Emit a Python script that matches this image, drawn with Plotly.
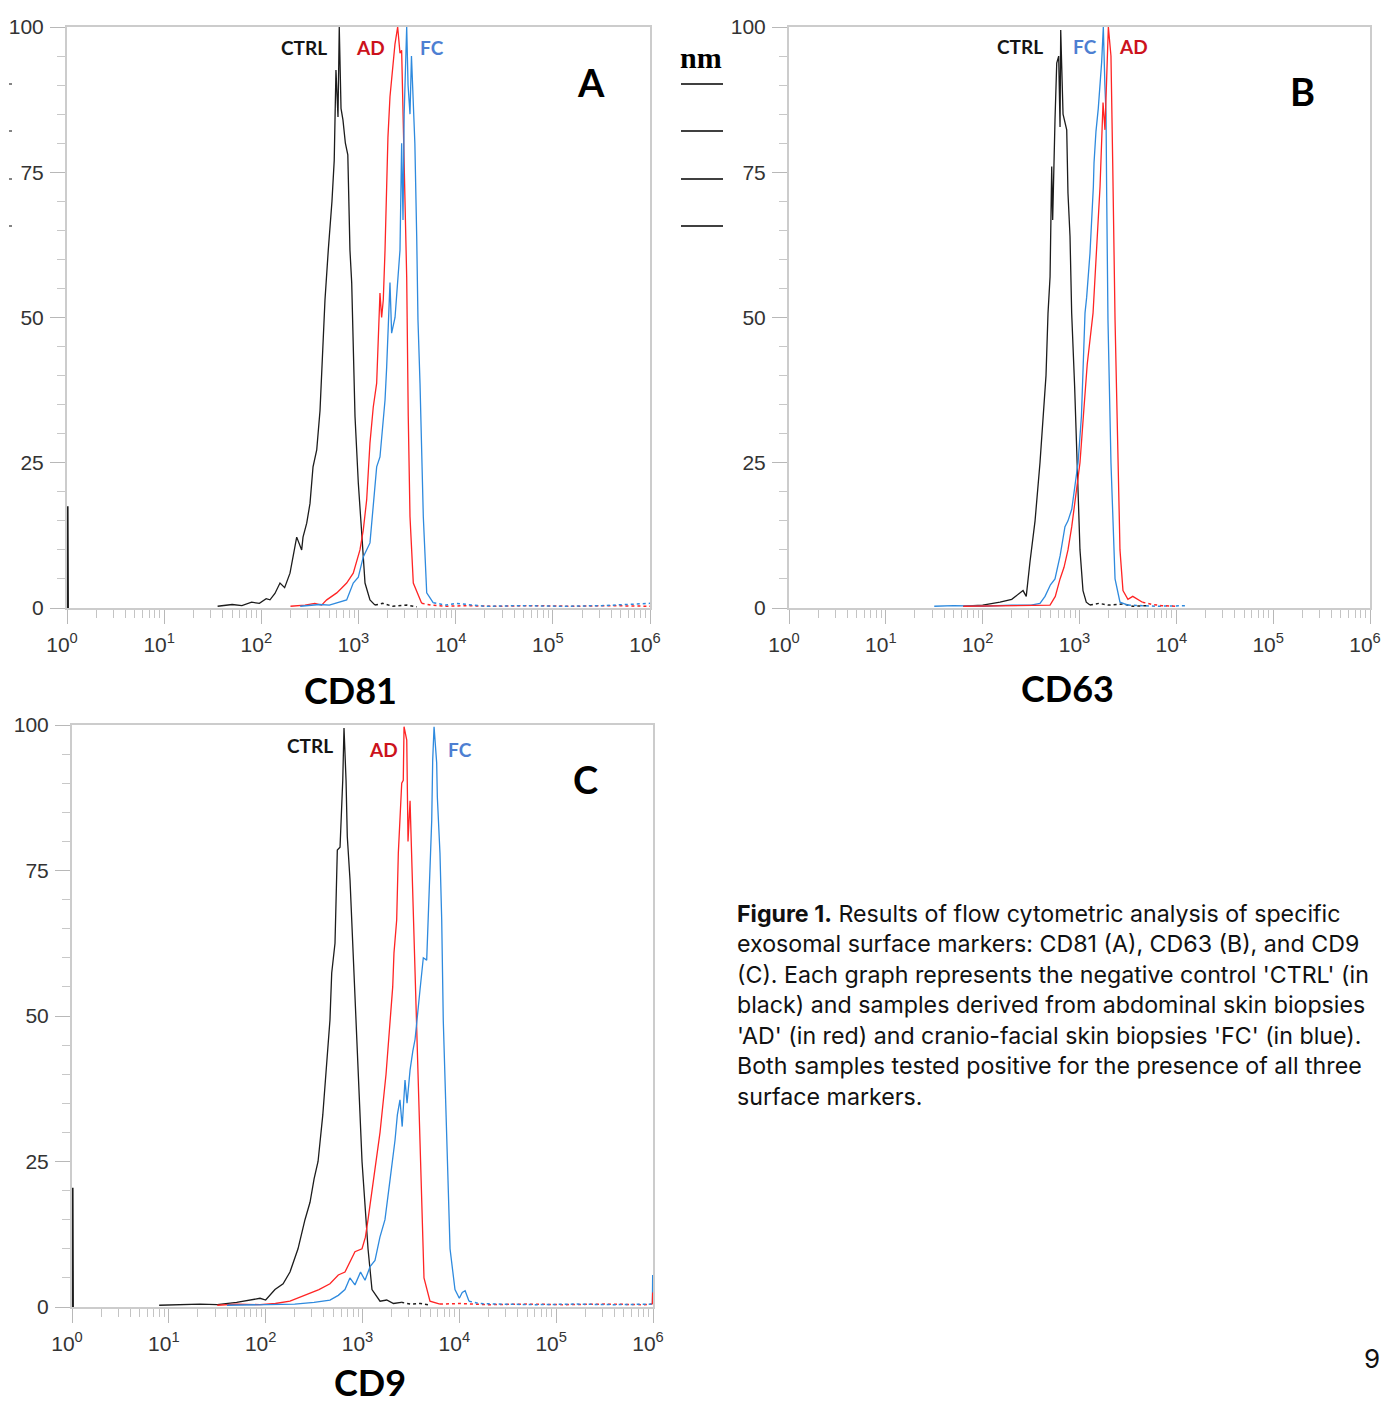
import plotly.graph_objects as go

W, H = 1389, 1402          # browser window
PAGE_MARGIN = 8            # default body margin of the html page
FW, FH = W - PAGE_MARGIN, H - PAGE_MARGIN

# ---------------- DATA (log10 of fluorescence intensity, % of max) ----------------
# Panel A : CD81
a_ctrl_log = [1.55, 1.70, 1.80, 1.90, 1.98, 2.05, 2.089, 2.14, 2.192, 2.24, 2.295, 2.33, 2.364, 2.415, 2.429,
              2.467, 2.501, 2.532, 2.57, 2.604, 2.621, 2.655, 2.689, 2.727, 2.75, 2.768, 2.789, 2.802, 2.82,
              2.84, 2.865, 2.89, 2.912, 2.93, 2.964, 2.998, 3.033, 3.067, 3.118, 3.17]
a_ctrl_val = [0.3, 0.6, 0.4, 1.0, 0.8, 1.6, 1.4, 2.5, 4.3, 3.5, 6.0, 9.0, 12.2, 10.0, 12.2,
              14.6, 18.0, 24.3, 27.2, 34.0, 40.5, 53.0, 61.6, 70.0, 77.0, 92.6, 84.5, 100.0, 86.0,
              84.0, 80.0, 78.0, 61.6, 56.0, 33.0, 21.5, 12.9, 4.3, 1.4, 0.5]
a_ctrl_tail_log = [3.17, 3.25, 3.35, 3.50, 3.60]
a_ctrl_tail_val = [0.5, 0.8, 0.3, 0.5, 0.2]
a_ctrl_spike_log = [0.004, 0.008, 0.012]
a_ctrl_spike_val = [0.0, 17.5, 0.0]

a_ad_log = [2.30, 2.45, 2.55, 2.62, 2.673, 2.72, 2.776, 2.83, 2.878, 2.946, 3.015, 3.049, 3.084, 3.118, 3.152,
            3.187, 3.204, 3.221, 3.238, 3.255, 3.273, 3.29, 3.303, 3.324, 3.35, 3.375, 3.403, 3.427, 3.444,
            3.458, 3.478, 3.496, 3.512, 3.53, 3.564, 3.633, 3.65]
a_ad_val = [0.3, 0.5, 0.8, 0.5, 1.4, 2.0, 2.6, 3.5, 4.3, 6.0, 10.0, 13.4, 18.6, 28.4, 34.6,
            38.7, 45.6, 54.2, 50.0, 53.0, 61.6, 72.5, 81.0, 88.0, 92.0, 97.0, 100.0, 95.5, 96.0,
            84.0, 72.5, 57.0, 33.0, 15.7, 4.3, 1.4, 0.8]
a_ad_tail_log = [3.65, 3.75, 3.90, 4.10, 4.40, 4.80, 5.20, 5.60, 6.00]
a_ad_tail_val = [0.8, 0.5, 0.3, 0.4, 0.3, 0.4, 0.3, 0.4, 0.3]

a_fc_log = [2.40, 2.60, 2.70, 2.776, 2.878, 2.946, 2.998, 3.049, 3.118, 3.187, 3.221, 3.273, 3.29, 3.324, 3.341,
            3.376, 3.41, 3.427, 3.444, 3.458, 3.47, 3.496, 3.51, 3.53, 3.545, 3.564, 3.58, 3.599, 3.612,
            3.633, 3.667, 3.702, 3.77]
a_fc_val = [0.3, 0.6, 0.5, 0.9, 1.4, 4.3, 5.3, 8.8, 11.2, 24.3, 26.0, 35.8, 41.5, 56.0, 47.3,
            50.0, 58.7, 61.6, 80.0, 66.8, 85.0, 100.0, 90.0, 85.0, 95.0, 87.0, 80.0, 64.0, 49.6,
            38.7, 15.7, 2.6, 0.9]
a_fc_tail_log = [3.77, 3.90, 4.00, 4.30, 4.70, 5.10, 5.50, 6.00]
a_fc_tail_val = [0.9, 0.5, 0.8, 0.3, 0.4, 0.3, 0.4, 0.8]

# Panel B : CD63
b_ctrl_log = [1.80, 2.00, 2.179, 2.30, 2.417, 2.45, 2.489, 2.541, 2.592, 2.62, 2.654, 2.675, 2.696, 2.713, 2.723,
              2.747, 2.765, 2.785, 2.799, 2.806, 2.83, 2.868, 2.881, 2.902, 2.919, 2.95, 2.974, 3.005, 3.036,
              3.07, 3.108]
b_ctrl_val = [0.3, 0.5, 1.0, 1.5, 3.0, 2.0, 8.0, 15.0, 25.0, 32.0, 40.0, 50.8, 57.0, 76.0, 66.8,
              84.0, 93.8, 95.0, 82.8, 99.5, 85.0, 82.3, 71.4, 64.0, 50.8, 38.0, 25.0, 10.0, 3.0,
              1.0, 0.5]
b_ctrl_tail_log = [3.108, 3.20, 3.30, 3.45, 3.55, 3.70]
b_ctrl_tail_val = [0.5, 0.8, 0.5, 0.7, 0.3, 0.4]

b_fc_log = [1.50, 1.70, 2.00, 2.30, 2.50, 2.592, 2.644, 2.70, 2.747, 2.80, 2.85, 2.881, 2.92, 2.95, 2.985, 3.02,
            3.057, 3.074, 3.108, 3.143, 3.15, 3.17, 3.194, 3.229, 3.246, 3.262, 3.274, 3.281, 3.294, 3.325,
            3.367, 3.418, 3.50]
b_fc_val = [0.3, 0.4, 0.3, 0.5, 0.5, 0.8, 2.0, 4.0, 5.0, 9.0, 14.0, 15.0, 17.0, 21.0, 25.0, 33.0,
            50.8, 53.5, 61.0, 72.5, 76.6, 82.0, 86.0, 94.0, 100.0, 90.0, 85.0, 70.7, 49.6, 25.0,
            5.0, 1.0, 0.5]
b_fc_tail_log = [3.50, 3.60, 3.80, 4.10]
b_fc_tail_val = [0.5, 0.4, 0.3, 0.4]

b_ad_log = [1.80, 2.10, 2.40, 2.60, 2.696, 2.75, 2.799, 2.84, 2.881, 2.92, 2.95, 3.005, 3.04, 3.08, 3.14, 3.17,
            3.19, 3.212, 3.243, 3.263, 3.281, 3.298, 3.325, 3.333, 3.343, 3.367, 3.398, 3.418, 3.449, 3.50,
            3.55, 3.65]
b_ad_val = [0.3, 0.4, 0.5, 0.5, 0.5, 2.0, 5.0, 7.0, 10.0, 14.0, 18.0, 25.0, 33.0, 42.0, 50.8, 60.0,
            63.9, 72.5, 87.0, 82.3, 91.4, 100.0, 95.0, 81.8, 76.6, 49.6, 25.0, 10.0, 3.0, 1.5,
            2.0, 1.0]
b_ad_tail_log = [3.65, 3.75, 3.85, 4.00]
b_ad_tail_val = [1.0, 0.6, 0.4, 0.3]

# Panel C : CD9
c_ctrl_log = [0.90, 1.20, 1.322, 1.50, 1.70, 1.942, 2.00, 2.096, 2.18, 2.251, 2.334, 2.406, 2.458, 2.50, 2.541,
              2.59, 2.623, 2.664, 2.682, 2.716, 2.74, 2.768, 2.796, 2.809, 2.83, 2.843, 2.871, 2.90, 2.94,
              2.97, 2.995, 3.057, 3.098, 3.181, 3.25, 3.32, 3.40]
c_ctrl_val = [0.3, 0.5, 0.5, 0.4, 0.8, 1.5, 1.2, 3.0, 4.0, 6.0, 10.0, 15.0, 18.0, 22.0, 25.0,
              33.0, 40.0, 49.3, 57.4, 62.5, 78.5, 79.0, 90.5, 99.5, 90.5, 80.8, 73.4, 62.0, 49.3,
              35.0, 25.0, 10.0, 3.0, 1.0, 1.2, 0.6, 0.8]
c_ctrl_tail_log = [3.40, 3.50, 3.60, 3.70]
c_ctrl_tail_val = [0.8, 0.5, 0.6, 0.3]
c_ctrl_spike_log = [0.004, 0.008, 0.012]
c_ctrl_spike_val = [0.0, 20.5, 0.0]

c_ad_log = [1.50, 1.70, 1.942, 2.10, 2.251, 2.40, 2.55, 2.664, 2.75, 2.819, 2.88, 2.922, 2.995, 3.03, 3.057,
            3.098, 3.14, 3.181, 3.243, 3.284, 3.312, 3.325, 3.353, 3.37, 3.405, 3.421, 3.429, 3.457, 3.47,
            3.491, 3.519, 3.553, 3.594, 3.635, 3.697, 3.80]
c_ad_val = [0.3, 0.5, 0.4, 0.6, 1.0, 2.0, 3.0, 4.0, 5.5, 6.0, 8.0, 9.5, 10.0, 12.0, 15.0,
            20.0, 25.0, 30.0, 40.0, 49.3, 55.0, 60.8, 66.5, 78.0, 90.0, 90.5, 99.7, 97.4, 80.0,
            87.0, 71.0, 49.3, 25.0, 5.0, 1.0, 0.5]
c_ad_tail_log = [3.80, 4.00, 4.30, 4.70, 5.10, 5.50, 5.90, 5.995]
c_ad_tail_val = [0.5, 0.6, 0.4, 0.5, 0.4, 0.5, 0.4, 0.5]
c_ad_spike_log = [5.995, 5.998, 6.00]
c_ad_spike_val = [0.5, 2.5, 0.5]

c_fc_log = [1.60, 2.00, 2.30, 2.50, 2.664, 2.75, 2.819, 2.87, 2.922, 2.98, 3.026, 3.08, 3.129, 3.18, 3.232,
            3.284, 3.336, 3.36, 3.387, 3.41, 3.439, 3.46, 3.491, 3.52, 3.543, 3.594, 3.628, 3.663, 3.68,
            3.697, 3.715, 3.725, 3.739, 3.766, 3.773, 3.80, 3.818, 3.834, 3.873, 3.904, 3.955, 4.00, 4.03,
            4.06, 4.10]
c_fc_val = [0.3, 0.4, 0.5, 0.8, 1.2, 2.0, 3.0, 5.0, 3.8, 6.0, 4.6, 7.0, 8.0, 12.0, 15.0,
            21.8, 28.7, 33.0, 35.6, 31.0, 39.0, 35.0, 40.7, 44.0, 46.0, 54.5, 60.0, 59.6, 66.5,
            76.3, 83.7, 94.0, 99.7, 93.5, 87.6, 78.0, 66.5, 49.3, 25.0, 10.0, 3.0, 1.5, 2.5,
            2.8, 1.0]
c_fc_tail_log = [4.10, 4.20, 4.40, 4.80, 5.20, 5.60, 5.995]
c_fc_tail_val = [1.0, 0.6, 0.5, 0.4, 0.5, 0.4, 0.5]
c_fc_spike_log = [5.995, 5.998, 6.00]
c_fc_spike_val = [0.5, 5.5, 0.5]

x_tick_vals = [1, 10, 100, 1000, 10000, 100000, 1000000]
x_tick_text = ["10<sup>0</sup>", "10<sup>1</sup>", "10<sup>2</sup>", "10<sup>3</sup>",
               "10<sup>4</sup>", "10<sup>5</sup>", "10<sup>6</sup>"]
y_tick_vals = [0, 25, 50, 75, 100]
y_tick_text = ["0", "25", "50", "75", "100"]

panel_titles = ["CD81", "CD63", "CD9"]
panel_letters = ["A", "B", "C"]
caption_lines = [
    "<b>Figure 1.</b> Results of flow cytometric analysis of specific",
    "exosomal surface markers: CD81 (A), CD63 (B), and CD9",
    "(C). Each graph represents the negative control 'CTRL' (in",
    "black) and samples derived from abdominal skin biopsies",
    "'AD' (in red) and cranio-facial skin biopsies 'FC' (in blue).",
    "Both samples tested positive for the presence of all three",
    "surface markers.",
]

# ---------------- STYLE ----------------
C_BLACK = "#1c1c1c"
C_RED = "#ff2424"
C_BLUE = "#2e8ade"
L_BLACK = "#151515"
L_RED = "#cc121c"
L_BLUE = "#4d7fd2"


def px(x):
    return (x - PAGE_MARGIN) / FW


def py(y):
    return 1 - (y - PAGE_MARGIN) / FH


minor_x = [m * 10 ** k for k in range(6) for m in range(2, 10)]

fig = go.Figure()


def add_line(log_vals, vals, color, xa, ya, dash="solid", width=1.3):
    fig.add_trace(go.Scatter(
        x=[10 ** v for v in log_vals], y=vals, mode="lines",
        line=dict(color=color, width=width, dash=dash), xaxis=xa, yaxis=ya, showlegend=False,
        hoverinfo="skip"))


# Panel A
add_line(a_ctrl_spike_log, a_ctrl_spike_val, C_BLACK, "x", "y", width=1.6)
add_line(a_ctrl_log, a_ctrl_val, C_BLACK, "x", "y")
add_line(a_ctrl_tail_log, a_ctrl_tail_val, C_BLACK, "x", "y", dash="dot", width=1.5)
add_line(a_ad_log, a_ad_val, C_RED, "x", "y")
add_line(a_ad_tail_log, a_ad_tail_val, C_RED, "x", "y", dash="dot", width=1.5)
add_line(a_fc_log, a_fc_val, C_BLUE, "x", "y")
add_line(a_fc_tail_log, a_fc_tail_val, C_BLUE, "x", "y", dash="dot", width=1.5)
# Panel B
add_line(b_ctrl_log, b_ctrl_val, C_BLACK, "x2", "y2")
add_line(b_ctrl_tail_log, b_ctrl_tail_val, C_BLACK, "x2", "y2", dash="dot", width=1.5)
add_line(b_fc_log, b_fc_val, C_BLUE, "x2", "y2")
add_line(b_fc_tail_log, b_fc_tail_val, C_BLUE, "x2", "y2", dash="dot", width=1.5)
add_line(b_ad_log, b_ad_val, C_RED, "x2", "y2")
add_line(b_ad_tail_log, b_ad_tail_val, C_RED, "x2", "y2", dash="dot", width=1.5)
# Panel C
add_line(c_ctrl_spike_log, c_ctrl_spike_val, C_BLACK, "x3", "y3", width=1.6)
add_line(c_ctrl_log, c_ctrl_val, C_BLACK, "x3", "y3")
add_line(c_ctrl_tail_log, c_ctrl_tail_val, C_BLACK, "x3", "y3", dash="dot", width=1.5)
add_line(c_ad_log, c_ad_val, C_RED, "x3", "y3")
add_line(c_ad_tail_log, c_ad_tail_val, C_RED, "x3", "y3", dash="dot", width=1.5)
add_line(c_fc_log, c_fc_val, C_BLUE, "x3", "y3")
add_line(c_fc_tail_log, c_fc_tail_val, C_BLUE, "x3", "y3", dash="dot", width=1.5)
add_line(c_fc_spike_log, c_fc_spike_val, C_BLUE, "x3", "y3", width=1.6)
add_line(c_ad_spike_log, c_ad_spike_val, C_RED, "x3", "y3", width=1.6)

tick_font = dict(family="Liberation Sans", size=21, color="#333333")


def xcfg(x0, x1, anchor):
    return dict(type="log", range=[0, 6], domain=[px(x0), px(x1)], anchor=anchor, automargin=False,
                tickmode="array", tickvals=x_tick_vals, ticktext=x_tick_text,
                ticks="outside", ticklen=14, tickwidth=1.3, tickcolor="#b8b8b8",
                showline=True, linecolor="#cccccc", linewidth=2, mirror=True,
                showgrid=False, zeroline=False, tickfont=tick_font, ticklabelstandoff=3,
                ticklabelshift=-5,
                minor=dict(tickmode="array", tickvals=minor_x, ticks="outside", ticklen=8,
                           tickwidth=1.2, tickcolor="#c4c4c4", showgrid=False))


def ycfg(y_top, y_bot, anchor):
    return dict(range=[0, 100], domain=[py(y_bot), py(y_top)], anchor=anchor, automargin=False,
                tickmode="array", tickvals=y_tick_vals, ticktext=y_tick_text,
                ticks="outside", ticklen=15, tickwidth=1.3, tickcolor="#b8b8b8",
                showline=True, linecolor="#cccccc", linewidth=2, mirror=True,
                showgrid=False, zeroline=False, tickfont=tick_font, ticklabelstandoff=2,
                minor=dict(tick0=0, dtick=5, ticks="outside", ticklen=8, tickwidth=1.2,
                           tickcolor="#c8c8c8", showgrid=False))


fig.update_layout(
    width=FW, height=FH, margin=dict(l=0, r=0, t=0, b=0, autoexpand=False),
    paper_bgcolor="white", plot_bgcolor="white",
    xaxis=xcfg(67, 650, "y"), yaxis=ycfg(27, 608, "x"),
    xaxis2=xcfg(789, 1370, "y2"), yaxis2=ycfg(27, 608, "x2"),
    xaxis3=xcfg(72, 653, "y3"), yaxis3=ycfg(725, 1307, "x3"),
)

ann = []


def text(x, y, s, size, color="#000", family="Lato", weight="normal", xanchor="center"):
    ann.append(dict(x=px(x), y=py(y), xref="paper", yref="paper", text=s, showarrow=False,
                    xanchor=xanchor, yanchor="middle",
                    font=dict(family=family, size=size, color=color, weight=weight)))


# series labels
text(304, 48, "CTRL", 19, L_BLACK, weight="bold")
text(370, 48, "AD", 19, L_RED, weight="bold")
text(432, 48, "FC", 19, L_BLUE, weight="bold")
text(1020, 47, "CTRL", 19, L_BLACK, weight="bold")
text(1085, 47, "FC", 19, L_BLUE, weight="bold")
text(1133, 47, "AD", 19, L_RED, weight="bold")
text(310, 745, "CTRL", 19, L_BLACK, weight="bold")
text(383, 749, "AD", 19, L_RED, weight="bold")
text(460, 749, "FC", 19, L_BLUE, weight="bold")

# panel letters
text(591, 82, panel_letters[0], 38, "#000", weight="bold")
text(1302, 91, panel_letters[1], 38, "#000", weight="bold")
text(585, 779, panel_letters[2], 38, "#000", weight="bold")

# axis titles
text(350, 690, panel_titles[0], 36, "#000", weight="bold")
text(1067, 688, panel_titles[1], 36, "#000", weight="bold")
text(370, 1382, panel_titles[2], 36, "#000", weight="bold")

# caption
cap_y = [914, 944, 975, 1005, 1036, 1066, 1097]
for yy, line in zip(cap_y, caption_lines):
    text(735, yy, line, 23.2, "#111", family="Inter", xanchor="left")

# page number and stray page artefacts
text(1372, 1358, "9", 26, "#111", family="Inter")
text(701, 57, "nm", 30, "#000", family="Liberation Serif", weight="bold")

fig.update_layout(annotations=ann)

shapes = []
for yy in [84, 131, 179, 226]:
    shapes.append(dict(type="line", xref="paper", yref="paper", x0=px(681), x1=px(723),
                       y0=py(yy), y1=py(yy), line=dict(color="#000", width=1.5)))
    shapes.append(dict(type="line", xref="paper", yref="paper", x0=px(9), x1=px(12),
                       y0=py(yy), y1=py(yy), line=dict(color="#333", width=1.2)))
fig.update_layout(shapes=shapes)

fig.write_html("out.html")
